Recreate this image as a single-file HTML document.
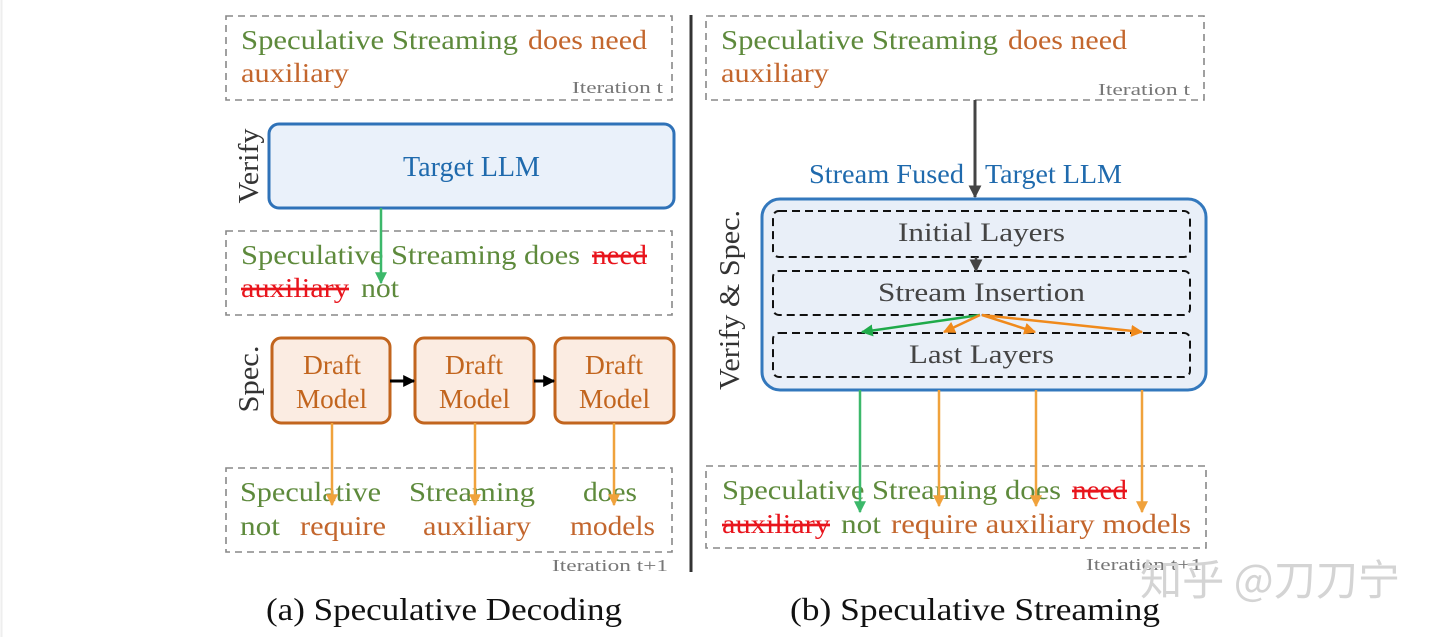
<!DOCTYPE html>
<html><head><meta charset="utf-8"><style>
html,body{margin:0;padding:0;background:#fff;}
svg{display:block;}
text{font-family:"Liberation Serif",serif;}
.g{fill:#5e8a3c}.o{fill:#c3662d}.r{fill:#e8141c;text-decoration:line-through}
.t{font-size:27px}
.it{font-size:17px;fill:#777}
</style></head><body>
<svg width="1440" height="637" viewBox="0 0 1440 637" xmlns="http://www.w3.org/2000/svg">
<defs>
<marker id="ag2" viewBox="0 0 10 10" refX="9" refY="5" markerWidth="12" markerHeight="12" orient="auto" markerUnits="userSpaceOnUse"><path d="M0,0 L10,5 L0,10 z" fill="#3cb86a"/></marker>
<marker id="ao" viewBox="0 0 10 10" refX="9" refY="5" markerWidth="12" markerHeight="12" orient="auto" markerUnits="userSpaceOnUse"><path d="M0,0 L10,5 L0,10 z" fill="#f0a23c"/></marker>
<marker id="ao2" viewBox="0 0 10 10" refX="9" refY="5" markerWidth="12" markerHeight="12" orient="auto" markerUnits="userSpaceOnUse"><path d="M0,0 L10,5 L0,10 z" fill="#f08a1c"/></marker>
<marker id="agg" viewBox="0 0 10 10" refX="9" refY="5" markerWidth="12" markerHeight="12" orient="auto" markerUnits="userSpaceOnUse"><path d="M0,0 L10,5 L0,10 z" fill="#1faa4a"/></marker>
<marker id="ak" viewBox="0 0 10 10" refX="9" refY="5" markerWidth="12" markerHeight="12" orient="auto" markerUnits="userSpaceOnUse"><path d="M0,0 L10,5 L0,10 z" fill="#000"/></marker>
<marker id="ad" viewBox="0 0 10 10" refX="9" refY="5" markerWidth="13" markerHeight="13" orient="auto" markerUnits="userSpaceOnUse"><path d="M0,0 L10,5 L0,10 z" fill="#444"/></marker>
</defs>
<line x1="1.5" y1="0" x2="1.5" y2="637" stroke="#eee" stroke-width="2"/>

<!-- LEFT -->
<rect x="226" y="16" width="446" height="84" fill="none" stroke="#888" stroke-width="1.6" stroke-dasharray="7,5"/>
<text x="241" y="49" class="t g" textLength="277" lengthAdjust="spacingAndGlyphs">Speculative Streaming</text>
<text x="528" y="49" class="t o" textLength="119" lengthAdjust="spacingAndGlyphs">does need</text>
<text x="241" y="82" class="t o" textLength="108" lengthAdjust="spacingAndGlyphs">auxiliary</text>
<text x="572" y="93" class="it" textLength="91" lengthAdjust="spacingAndGlyphs">Iteration t</text>

<text transform="translate(258,166) rotate(-90)" text-anchor="middle" font-size="28" fill="#333" textLength="75" lengthAdjust="spacingAndGlyphs">Verify</text>
<rect x="269" y="124" width="405" height="84" rx="10" fill="#eaf1fa" stroke="#2f72b8" stroke-width="3"/>
<text x="403" y="176" font-size="28" fill="#1f6aad" textLength="137" lengthAdjust="spacingAndGlyphs">Target LLM</text>

<rect x="226" y="231" width="446" height="84" fill="none" stroke="#888" stroke-width="1.6" stroke-dasharray="7,5"/>
<text x="241" y="264" class="t g" textLength="339" lengthAdjust="spacingAndGlyphs">Speculative Streaming does</text>
<text x="592" y="264" class="t r" textLength="55" lengthAdjust="spacingAndGlyphs">need</text>
<text x="241" y="297" class="t r" textLength="108" lengthAdjust="spacingAndGlyphs">auxiliary</text>
<text x="361" y="297" class="t g" textLength="38" lengthAdjust="spacingAndGlyphs">not</text>
<line x1="381" y1="208" x2="381" y2="283" stroke="#3cb86a" stroke-width="2.5" marker-end="url(#ag2)"/>

<text transform="translate(258,379) rotate(-90)" text-anchor="middle" font-size="28" fill="#333" textLength="67" lengthAdjust="spacingAndGlyphs">Spec.</text>
<g fill="#fbece2" stroke="#c2651e" stroke-width="3">
<rect x="272" y="338" width="118" height="85" rx="9"/>
<rect x="415" y="338" width="119" height="85" rx="9"/>
<rect x="555" y="338" width="119" height="85" rx="9"/>
</g>
<g font-size="27" fill="#c2651e">
<text x="303" y="374" textLength="58" lengthAdjust="spacingAndGlyphs">Draft</text><text x="296" y="408" textLength="71" lengthAdjust="spacingAndGlyphs">Model</text>
<text x="445" y="374" textLength="58" lengthAdjust="spacingAndGlyphs">Draft</text><text x="439" y="408" textLength="71" lengthAdjust="spacingAndGlyphs">Model</text>
<text x="585" y="374" textLength="58" lengthAdjust="spacingAndGlyphs">Draft</text><text x="579" y="408" textLength="71" lengthAdjust="spacingAndGlyphs">Model</text>
</g>
<line x1="390" y1="381" x2="414" y2="381" stroke="#000" stroke-width="3" marker-end="url(#ak)"/>
<line x1="534" y1="381" x2="554" y2="381" stroke="#000" stroke-width="3" marker-end="url(#ak)"/>

<rect x="226" y="468" width="446" height="84" fill="none" stroke="#888" stroke-width="1.6" stroke-dasharray="7,5"/>
<text x="240" y="501" class="t g" textLength="141" lengthAdjust="spacingAndGlyphs">Speculative</text>
<text x="409" y="501" class="t g" textLength="126" lengthAdjust="spacingAndGlyphs">Streaming</text>
<text x="583" y="501" class="t g" textLength="54" lengthAdjust="spacingAndGlyphs">does</text>
<text x="240" y="535" class="t g" textLength="40" lengthAdjust="spacingAndGlyphs">not</text>
<text x="300" y="535" class="t o" textLength="86" lengthAdjust="spacingAndGlyphs">require</text>
<text x="423" y="535" class="t o" textLength="108" lengthAdjust="spacingAndGlyphs">auxiliary</text>
<text x="570" y="535" class="t o" textLength="85" lengthAdjust="spacingAndGlyphs">models</text>
<line x1="332" y1="423" x2="332" y2="505" stroke="#f0a23c" stroke-width="2.5" marker-end="url(#ao)"/>
<line x1="475" y1="423" x2="475" y2="505" stroke="#f0a23c" stroke-width="2.5" marker-end="url(#ao)"/>
<line x1="614" y1="423" x2="614" y2="505" stroke="#f0a23c" stroke-width="2.5" marker-end="url(#ao)"/>
<text x="552" y="571" class="it" textLength="116" lengthAdjust="spacingAndGlyphs">Iteration t+1</text>

<line x1="691" y1="15" x2="691" y2="572" stroke="#333" stroke-width="3"/>
<text x="266" y="620" font-size="32" fill="#111" textLength="356" lengthAdjust="spacingAndGlyphs">(a) Speculative Decoding</text>

<!-- RIGHT -->
<rect x="706" y="16" width="498" height="84" fill="none" stroke="#888" stroke-width="1.6" stroke-dasharray="7,5"/>
<text x="721" y="49" class="t g" textLength="277" lengthAdjust="spacingAndGlyphs">Speculative Streaming</text>
<text x="1008" y="49" class="t o" textLength="119" lengthAdjust="spacingAndGlyphs">does need</text>
<text x="721" y="82" class="t o" textLength="108" lengthAdjust="spacingAndGlyphs">auxiliary</text>
<text x="1098" y="95" class="it" textLength="92" lengthAdjust="spacingAndGlyphs">Iteration t</text>

<line x1="975" y1="100" x2="975" y2="197" stroke="#444" stroke-width="3" marker-end="url(#ad)"/>
<text x="809" y="183" font-size="27" fill="#1f6aad" textLength="155" lengthAdjust="spacingAndGlyphs">Stream Fused</text>
<text x="985" y="183" font-size="27" fill="#1f6aad" textLength="137" lengthAdjust="spacingAndGlyphs">Target LLM</text>

<text transform="translate(739,300) rotate(-90)" text-anchor="middle" font-size="28" fill="#333" textLength="180" lengthAdjust="spacingAndGlyphs">Verify &amp; Spec.</text>
<rect x="762" y="199" width="444" height="191" rx="18" fill="#e9eff8" stroke="#3378bd" stroke-width="3"/>
<g fill="none" stroke="#111" stroke-width="2" stroke-dasharray="8,5">
<rect x="773" y="211" width="417" height="46" rx="6"/>
<rect x="773" y="271" width="417" height="44" rx="6"/>
<rect x="773" y="333" width="417" height="44" rx="6"/>
</g>
<g font-size="26" fill="#444">
<text x="898" y="241" textLength="167" lengthAdjust="spacingAndGlyphs">Initial Layers</text>
<text x="878" y="301" textLength="207" lengthAdjust="spacingAndGlyphs">Stream Insertion</text>
<text x="909" y="363" textLength="145" lengthAdjust="spacingAndGlyphs">Last Layers</text>
</g>
<line x1="976" y1="257" x2="976" y2="271" stroke="#444" stroke-width="2.5" marker-end="url(#ad)"/>
<line x1="980" y1="315" x2="862" y2="332" stroke="#1faa4a" stroke-width="2.5" marker-end="url(#agg)"/>
<line x1="980" y1="315" x2="944" y2="332" stroke="#f08a1c" stroke-width="2.5" marker-end="url(#ao2)"/>
<line x1="982" y1="315" x2="1035" y2="332" stroke="#f08a1c" stroke-width="2.5" marker-end="url(#ao2)"/>
<line x1="982" y1="315" x2="1142" y2="332" stroke="#f08a1c" stroke-width="2.5" marker-end="url(#ao2)"/>

<rect x="706" y="466" width="500" height="82" fill="none" stroke="#888" stroke-width="1.6" stroke-dasharray="7,5"/>
<text x="722" y="499" class="t g" textLength="339" lengthAdjust="spacingAndGlyphs">Speculative Streaming does</text>
<text x="1072" y="499" class="t r" textLength="55" lengthAdjust="spacingAndGlyphs">need</text>
<text x="722" y="533" class="t r" textLength="108" lengthAdjust="spacingAndGlyphs">auxiliary</text>
<text x="841" y="533" class="t g" textLength="40" lengthAdjust="spacingAndGlyphs">not</text>
<text x="891" y="533" class="t o" textLength="300" lengthAdjust="spacingAndGlyphs">require auxiliary models</text>
<line x1="860" y1="390" x2="860" y2="512" stroke="#3cb86a" stroke-width="2.5" marker-end="url(#ag2)"/>
<line x1="939" y1="390" x2="939" y2="506" stroke="#f0a23c" stroke-width="2.5" marker-end="url(#ao)"/>
<line x1="1036" y1="390" x2="1036" y2="506" stroke="#f0a23c" stroke-width="2.5" marker-end="url(#ao)"/>
<line x1="1142" y1="390" x2="1142" y2="512" stroke="#f0a23c" stroke-width="2.5" marker-end="url(#ao)"/>
<text x="1086" y="570" class="it" textLength="116" lengthAdjust="spacingAndGlyphs">Iteration t+1</text>
<text x="1140" y="595" font-size="42" fill="#d4d4d4" textLength="260" lengthAdjust="spacingAndGlyphs" style="font-family:'Noto Sans CJK SC','Liberation Sans',sans-serif">知乎 @刀刀宁</text>

<text x="790" y="620" font-size="32" fill="#111" textLength="370" lengthAdjust="spacingAndGlyphs">(b) Speculative Streaming</text>
</svg>
</body></html>
